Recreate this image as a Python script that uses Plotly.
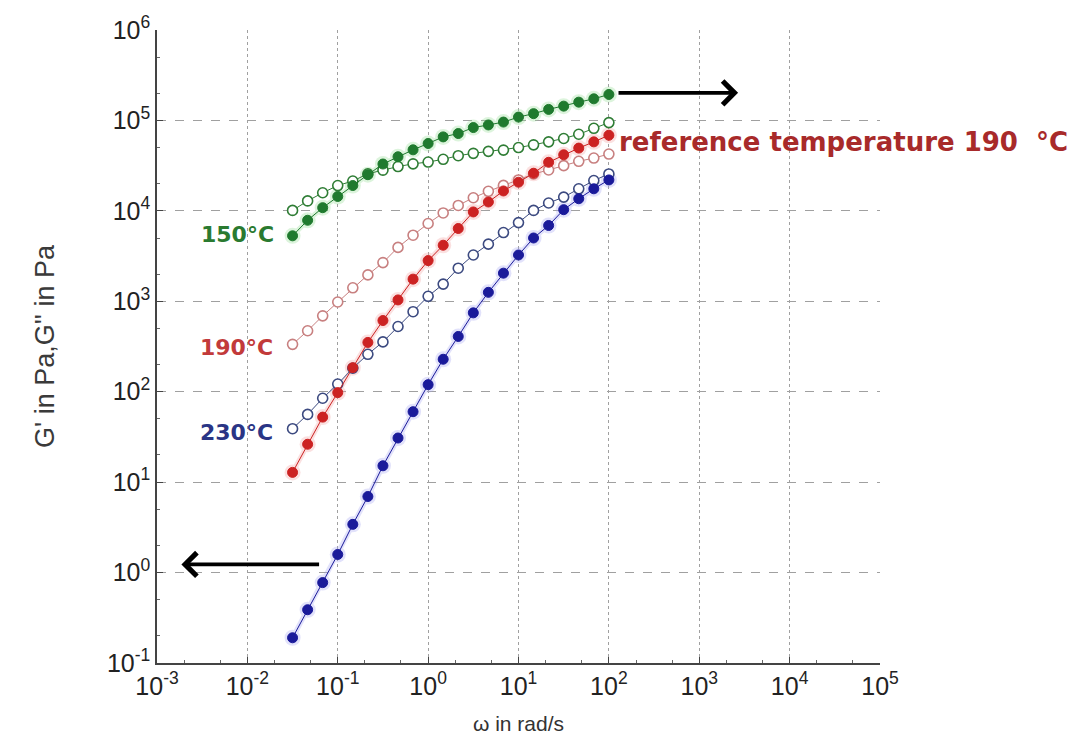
import numpy as np
import plotly.graph_objects as go

# angular frequency (rad/s), 6 points per decade
omega_log = [-1.5 + k / 6 for k in range(22)]
omega = [10 ** v for v in omega_log]

# log10 of moduli
g150_filled = [3.724, 3.896, 4.035, 4.159, 4.28, 4.40, 4.518, 4.598, 4.675, 4.745, 4.818,
               4.855, 4.921, 4.95, 4.982, 5.037, 5.075, 5.122, 5.158, 5.202, 5.239, 5.287]
g150_open = [4.005, 4.11, 4.20, 4.28, 4.33, 4.41, 4.45, 4.49, 4.52, 4.54, 4.57,
             4.61, 4.636, 4.658, 4.672, 4.70, 4.73, 4.763, 4.80, 4.847, 4.913, 4.976]
g190_filled = [1.108, 1.419, 1.719, 1.99, 2.266, 2.545, 2.787, 3.015, 3.245, 3.45, 3.62,
               3.805, 3.988, 4.098, 4.22, 4.317, 4.416, 4.537, 4.62, 4.694, 4.763, 4.836]
g190_open = [2.524, 2.674, 2.839, 2.992, 3.149, 3.292, 3.428, 3.596, 3.731, 3.86, 3.977,
             4.06, 4.145, 4.216, 4.282, 4.342, 4.408, 4.452, 4.50, 4.548, 4.584, 4.628]
g230_filled = [-0.721, -0.411, -0.111, 0.20, 0.533, 0.841, 1.181, 1.488, 1.779, 2.078, 2.359,
               2.611, 2.872, 3.099, 3.311, 3.512, 3.70, 3.838, 4.013, 4.134, 4.244, 4.342]
g230_open = [1.591, 1.749, 1.928, 2.085, 2.26, 2.414, 2.551, 2.721, 2.885, 3.055, 3.19,
             3.366, 3.512, 3.632, 3.76, 3.87, 4.005, 4.087, 4.152, 4.244, 4.335, 4.408]

x_tick_exp = [-3, -2, -1, 0, 1, 2, 3, 4, 5]
y_tick_exp = [-1, 0, 1, 2, 3, 4, 5, 6]

temp_labels = ["150°C", "190°C", "230°C"]
ref_label = "reference temperature 190  °C"

def lin(vals):
    return [10 ** v for v in vals]

fig = go.Figure()

series = [
    (g150_open, "open", "#2f7d35", "#2f7d35"),
    (g190_open, "open", "#c88080", "#c88080"),
    (g230_open, "open", "#3c4a80", "#3c4a80"),
    (g150_filled, "filled", "#1f7a2e", "#8fdc8f"),
    (g190_filled, "filled", "#cc2222", "#f29a9a"),
    (g230_filled, "filled", "#1a1a9a", "#a0a0f2"),
]

# soft glow around filled series
for vals, kind, col, halo in series:
    if kind == "filled":
        fig.add_trace(go.Scatter(
            x=omega, y=lin(vals), mode="lines+markers",
            line=dict(color=halo, width=5), opacity=0.3,
            marker=dict(size=16, color=halo),
            hoverinfo="skip", showlegend=False))

for vals, kind, col, halo in series:
    if kind == "filled":
        fig.add_trace(go.Scatter(
            x=omega, y=lin(vals), mode="lines+markers",
            line=dict(color=col, width=1),
            marker=dict(size=10, color=col, line=dict(color=col, width=1)),
            showlegend=False))
    else:
        fig.add_trace(go.Scatter(
            x=omega, y=lin(vals), mode="lines+markers",
            line=dict(color=col, width=1),
            marker=dict(size=10, color="white", line=dict(color=col, width=1.6)),
            showlegend=False))

arial = "Liberation Sans, Arial, sans-serif"
wide = "DejaVu Sans, Verdana, sans-serif"

fig.update_xaxes(
    type="log", range=[-3, 5],
    tickvals=[10 ** e for e in x_tick_exp],
    ticktext=["10<sup>%d</sup>" % e for e in x_tick_exp],
    showgrid=True, gridcolor="#a0a0a0", griddash="dot", gridwidth=1,
    showline=True, linecolor="#444", linewidth=1.5,
    ticks="inside", ticklen=6, tickcolor="#444",
    minor=dict(ticks="inside", ticklen=3, tickcolor="#666", showgrid=False),
    tickfont=dict(size=25, color="#222", family=arial),
    title=dict(text="ω in rad/s", font=dict(size=21, color="#333", family=arial), standoff=18),
    zeroline=False, mirror=False,
)
fig.update_yaxes(
    type="log", range=[-1, 6],
    tickvals=[10 ** e for e in y_tick_exp],
    ticktext=["10<sup>%d</sup>" % e for e in y_tick_exp],
    showgrid=True, gridcolor="#a0a0a0", griddash="dash", gridwidth=1,
    showline=True, linecolor="#444", linewidth=1.5,
    ticks="inside", ticklen=6, tickcolor="#444",
    minor=dict(ticks="inside", ticklen=3, tickcolor="#666", showgrid=False),
    tickfont=dict(size=25, color="#222", family=arial),
    title=dict(text="G' in Pa,G'' in Pa", font=dict(size=27, color="#3a3a3a", family=arial), standoff=44),
    zeroline=False,
)

label_pos = [(-1.68, 3.742, "#2a7a30"), (-1.69, 2.487, "#c23a3a"), (-1.69, 1.549, "#2a3585")]
for txt, (lx, ly, lc) in zip(temp_labels, label_pos):
    fig.add_annotation(x=lx, y=ly, xref="x", yref="y", text="<b>%s</b>" % txt,
                       showarrow=False, xanchor="right", yanchor="middle",
                       font=dict(size=22, color=lc, family=wide))

fig.add_annotation(x=2.09, y=4.76, xref="x", yref="y",
                   text="<b>%s</b>" % ref_label, showarrow=False,
                   xanchor="left", yanchor="middle",
                   font=dict(size=26, color="#a82a2a", family=wide))

# arrows
fig.add_annotation(x=3.43, y=5.305, ax=2.09, ay=5.305, xref="x", yref="y", axref="x", ayref="y",
                   text="", showarrow=True, arrowhead=4, arrowsize=1.2, arrowwidth=3.8, arrowcolor="black")
fig.add_annotation(x=-2.73, y=0.09, ax=-1.19, ay=0.09, xref="x", yref="y", axref="x", ayref="y",
                   text="", showarrow=True, arrowhead=4, arrowsize=1.2, arrowwidth=3.8, arrowcolor="black")

fig.update_layout(
    width=1090, height=749,
    margin=dict(l=157, r=210, t=25, b=86),
    plot_bgcolor="white", paper_bgcolor="white",
    showlegend=False,
)

fig.write_html("out.html")
